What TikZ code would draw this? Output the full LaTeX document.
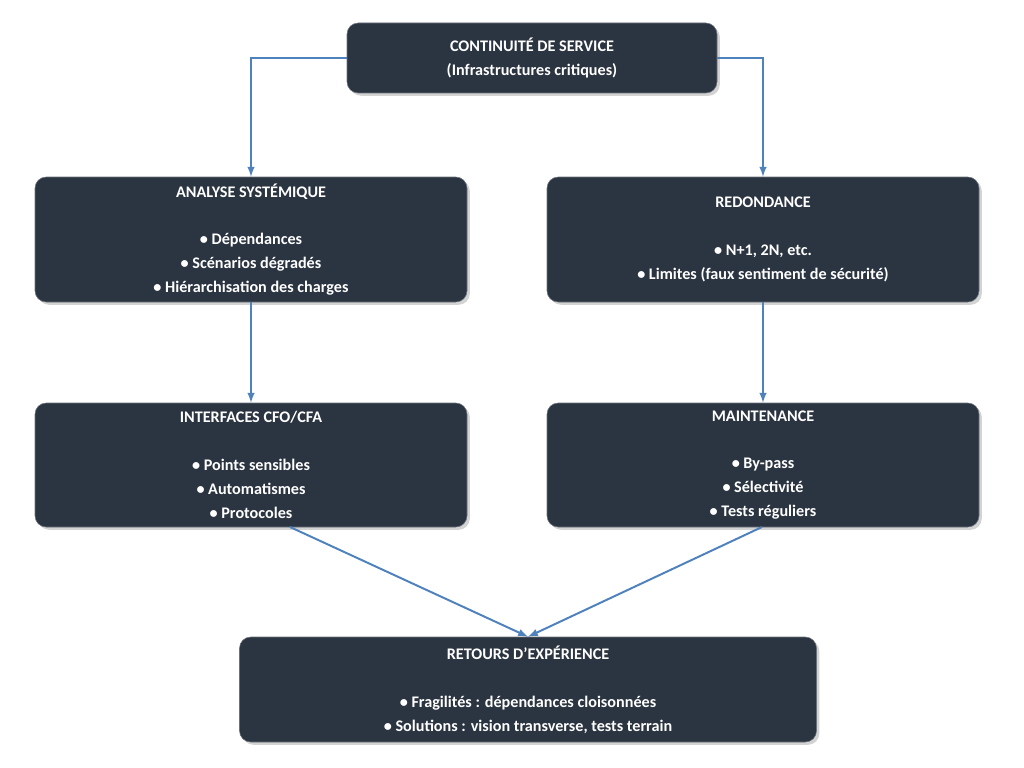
\documentclass[tikz,border=0pt]{standalone}
\usepackage{fontspec}
\setmainfont{Carlito}
\usetikzlibrary{positioning,shadows}
\definecolor{boxfill}{HTML}{2B3441}
\definecolor{arrowblue}{HTML}{4F81BD}

\begin{document}
\begin{tikzpicture}[x=0.025cm,y=-0.025cm,
   box/.style={draw=boxfill!70!white, fill=boxfill, rounded corners=8pt, text=white,
      font=\bfseries\fontsize{11.5}{17}\selectfont, align=center, inner sep=0pt,
      drop shadow={opacity=0.35, shadow xshift=2pt, shadow yshift=-2pt}},
   link/.style={draw=arrowblue, line width=1.4pt, -latex}]
   \useasboundingbox (0,0) rectangle (1024,768);

   \node[box, minimum width=370*0.025cm, minimum height=70*0.025cm] (cont) at (532,58)
      {CONTINUITÉ DE SERVICE\\(Infrastructures critiques)};
   \node[box, minimum width=432*0.025cm, minimum height=125*0.025cm] (analyse) at (251,239.5)
      {ANALYSE SYSTÉMIQUE\\ \\• Dépendances\\• Scénarios dégradés\\• Hiérarchisation des charges};
   \node[box, minimum width=432*0.025cm, minimum height=125*0.025cm] (redond) at (763,239.5)
      {REDONDANCE\\ \\• N+1, 2N, etc.\\• Limites (faux sentiment de sécurité)};
   \node[box, minimum width=432*0.025cm, minimum height=124*0.025cm] (interf) at (251,465)
      {INTERFACES CFO/CFA\\ \\• Points sensibles\\• Automatismes\\• Protocoles};
   \node[box, minimum width=432*0.025cm, minimum height=124*0.025cm] (maint) at (763,465)
      {MAINTENANCE\\ \\• By-pass\\• Sélectivité\\• Tests réguliers};
   \node[box, minimum width=577*0.025cm, minimum height=105*0.025cm] (retex) at (528,689.5)
      {RETOURS D'EXPÉRIENCE\\ \\• Fragilités : dépendances cloisonnées\\• Solutions : vision transverse, tests terrain};

   % liaisons
   \draw[link] (cont.west) -| (analyse.north);
   \draw[link] (cont.east) -| (redond.north);
   \draw[link] (analyse) -- (interf);
   \draw[link] (redond) -- (maint);
   \coordinate (fromI) at (290,527);
   \coordinate (fromM) at (762,527);
   \draw[link] (fromI) -- (retex.north);
   \draw[link] (fromM) -- (retex.north);
\end{tikzpicture}
\end{document}
